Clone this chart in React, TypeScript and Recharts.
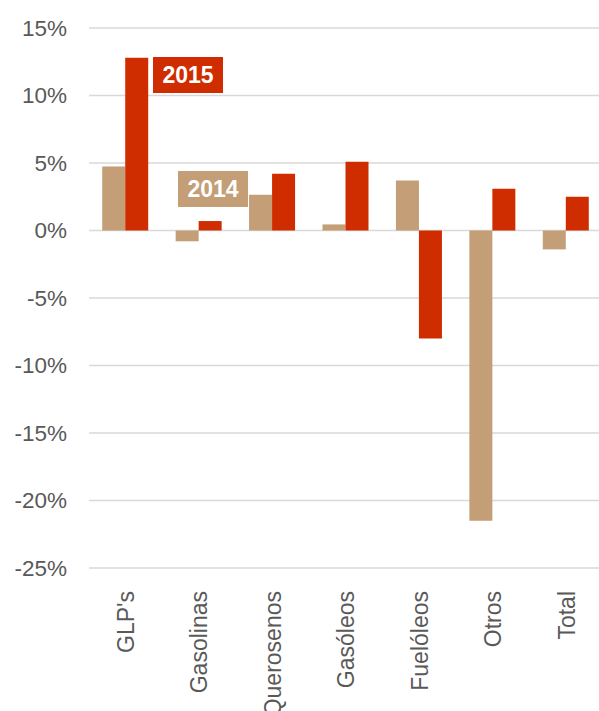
import { Bar, BarChart, CartesianGrid, XAxis, YAxis } from "recharts";

const categories = ["GLP's", "Gasolinas", "Querosenos", "Gasóleos", "Fuelóleos", "Otros", "Total"];
const values2014 = [4.75, -0.8, 2.65, 0.45, 3.7, -21.5, -1.4];
const values2015 = [12.8, 0.7, 4.2, 5.1, -8.0, 3.1, 2.5];
const yTicks = [15, 10, 5, 0, -5, -10, -15, -20, -25];

const data = categories.map((name, i) => ({
  name,
  y2014: values2014[i],
  y2015: values2015[i],
}));

const FONT = "'Liberation Sans', Arial, sans-serif";

function CategoryTick({ x, y, payload }: any) {
  return (
    <g transform={`translate(${x},${y})`}>
      <text
        x={-15}
        y={0}
        dy="0.36em"
        textAnchor="end"
        transform="rotate(-90)"
        fill="#595959"
        fontSize={23}
        fontFamily={FONT}
      >
        {payload.value}
      </text>
    </g>
  );
}

const tagStyle = {
  position: "absolute" as const,
  width: 70,
  height: 36,
  color: "#fff",
  fontFamily: FONT,
  fontWeight: 700,
  fontSize: 23,
  lineHeight: "36px",
  textAlign: "center" as const,
};

export default function App() {
  return (
    <div style={{ position: "absolute", left: 0, top: 0, width: 599, height: 711, overflow: "hidden", background: "#fff" }}>
      <BarChart
        width={603}
        height={711}
        data={data}
        margin={{ top: 28, right: 0, left: 0, bottom: 0 }}
        barCategoryGap="18%"
        barGap={0}
      >
        <CartesianGrid stroke="#d9d9d9" strokeWidth={1.5} vertical={false} />
        <YAxis
          width={89}
          domain={[-25, 15]}
          ticks={yTicks}
          tickFormatter={(v: number) => `${v}%`}
          axisLine={false}
          tickLine={false}
          tickMargin={16}
          tick={{ fill: "#595959", fontSize: 22.5, fontFamily: FONT }}
        />
        <XAxis
          dataKey="name"
          height={143}
          axisLine={false}
          tickLine={false}
          interval={0}
          tick={<CategoryTick />}
        />
        <Bar dataKey="y2014" fill="#c39e77" isAnimationActive={false} />
        <Bar dataKey="y2015" fill="#cf2d00" isAnimationActive={false} />
      </BarChart>
      <div style={{ ...tagStyle, left: 153, top: 57, background: "#cf2d00" }}>2015</div>
      <div style={{ ...tagStyle, left: 178, top: 171, background: "#c39e77" }}>2014</div>
    </div>
  );
}
